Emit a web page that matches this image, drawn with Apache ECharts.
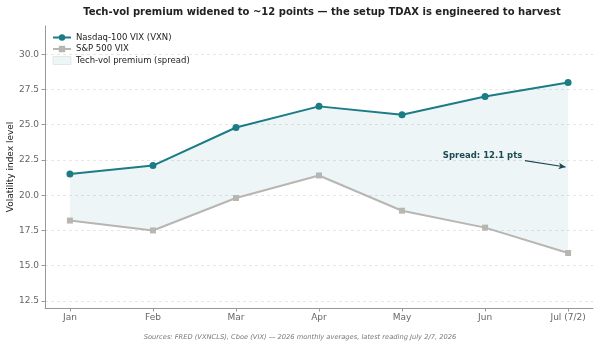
<!DOCTYPE html>
<html><head><meta charset="utf-8">
<script src="https://cdn.jsdelivr.net/npm/echarts@6/dist/echarts.min.js"></script>
<style>html,body{margin:0;padding:0;background:#fff}#c{width:600px;height:348px}</style>
</head><body><div id="c"></div>
<script>
const months = ['Jan','Feb','Mar','Apr','May','Jun','Jul (7/2)'];
const vxn = [21.5, 22.1, 24.8, 26.3, 25.7, 27.0, 28.0];
const vix = [18.2, 17.5, 19.8, 21.4, 18.9, 17.7, 15.9];
const yTicks = [12.5, 15.0, 17.5, 20.0, 22.5, 25.0, 27.5, 30.0];
const spreadLabel = 'Spread: 12.1 pts';

const teal = '#1b7c86', gray = '#b8b6b1', fill = 'rgba(27,124,134,0.08)';
const idx = months.map((m,i)=>i);
const chart = echarts.init(document.getElementById('c'), null, {renderer:'canvas'});
const F = 'DejaVu Sans';
chart.setOption({
  animation:false,
  textStyle:{fontFamily:F},
  title:{text:'Tech-vol premium widened to ~12 points — the setup TDAX is engineered to harvest',
    left:317, textAlign:'center', top:2, textStyle:{fontFamily:F,fontSize:10,fontWeight:'bold',color:'#222'}},
  grid:{left:45,right:7,top:26,bottom:40,containLabel:false,outerBoundsMode:'none'},
  legend:{orient:'vertical',left:52,top:33,padding:0,itemGap:2.5,itemWidth:18,itemHeight:8,
    textStyle:{fontFamily:F,fontSize:8.5,color:'#222'},
    data:[{name:'Nasdaq-100 VIX (VXN)'},{name:'S&P 500 VIX'},
      {name:'Tech-vol premium (spread)',icon:'rect',itemStyle:{color:'#edf5f5',borderColor:'#d6e6e8',borderWidth:0.8}}]},
  xAxis:{type:'value',min:-0.3,max:6.3,
    axisLine:{show:true,onZero:false,lineStyle:{color:'#999',width:1}},
    axisTick:{show:true,length:3.5,lineStyle:{color:'#999'},customValues:idx},
    axisLabel:{customValues:idx,formatter:v=>months[Math.round(v)],color:'#666',fontSize:9,margin:5,fontFamily:F},
    splitLine:{show:false}},
  yAxis:{type:'value',min:12,max:32,
    name:'Volatility index level',nameLocation:'middle',nameGap:30,nameRotate:90,nameMoveOverlap:false,
    nameTextStyle:{fontFamily:F,fontSize:9,color:'#222'},
    axisLine:{show:true,onZero:false,lineStyle:{color:'#999',width:1}},
    axisTick:{show:true,length:3.5,lineStyle:{color:'#999'},customValues:yTicks},
    axisLabel:{customValues:yTicks,formatter:v=>v.toFixed(1),color:'#666',fontSize:9,margin:6,fontFamily:F},
    splitLine:{show:true,lineStyle:{color:'#e0e0e0',type:[3,3],width:0.8}}},
  series:[
    {name:'Tech-vol premium (spread)',type:'custom',data:[[0]],silent:true,z:1,itemStyle:{color:'#edf5f5'},
      renderItem:(params,api)=>{
        const pts=[];
        idx.forEach(i=>pts.push(api.coord([i,vxn[i]])));
        idx.slice().reverse().forEach(i=>pts.push(api.coord([i,vix[i]])));
        return {type:'polygon',shape:{points:pts},style:{fill:fill}};
      }},
    {name:'S&P 500 VIX',type:'line',data:idx.map(i=>[i,vix[i]]),symbol:'rect',symbolSize:6,
      lineStyle:{color:gray,width:2},itemStyle:{color:gray},z:3},
    {name:'Nasdaq-100 VIX (VXN)',type:'line',data:idx.map(i=>[i,vxn[i]]),symbol:'circle',symbolSize:7,
      lineStyle:{color:teal,width:2},itemStyle:{color:teal},z:4,
      markLine:{silent:true,symbol:['none','arrow'],symbolSize:[5,7],
        lineStyle:{color:'#1d4a52',width:1.1,type:'solid'},label:{show:false},
        data:[[{coord:[5.48,22.45]},{coord:[5.97,22.0]}]]},
      markPoint:{silent:true,symbol:'circle',symbolSize:1,itemStyle:{color:'rgba(0,0,0,0)'},
        data:[{coord:[4.97,22.8],label:{show:true,formatter:spreadLabel,position:'inside',color:'#1d4a52',fontWeight:'bold',fontSize:8.5,fontFamily:F}}]}}
  ],
  graphic:[{type:'text',x:300,y:337,style:{text:'Sources: FRED (VXNCLS), Cboe (VIX) — 2026 monthly averages, latest reading July 2/7, 2026',
    fill:'#777',fontSize:6.7,fontStyle:'italic',fontFamily:F,align:'center',verticalAlign:'middle'}}]
});
</script></body></html>
